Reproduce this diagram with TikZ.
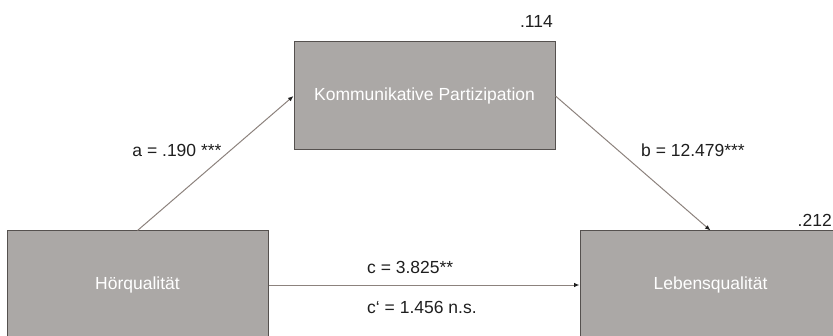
\documentclass[tikz,border=0pt]{standalone}
\usepackage{fontspec}
\setmainfont{Liberation Sans}
\usepackage{pgf}
\usepackage{tikz}
\usetikzlibrary{arrows.meta}
\definecolor{boxgray}{HTML}{ABA8A6}
\definecolor{edgegray}{HTML}{55514F}
\definecolor{linegray}{HTML}{8C827D}
\definecolor{labelgray}{HTML}{1E1E1E}

\begin{document}
\begin{tikzpicture}[x=1pt,y=1pt]
            \tikzstyle{varbox}=[rectangle,draw=edgegray,fill=boxgray,line width=1pt,minimum width=261pt,minimum height=108pt,inner sep=0pt,text=white,font=\fontsize{17.5}{21}\selectfont]
            \tikzstyle{effect}=[draw=linegray,line width=1pt,-{Latex[length=5.5pt,width=4.5pt,color=labelgray]}]
            \tikzstyle{coef}=[inner sep=0pt,text=labelgray,font=\fontsize{17.5}{21}\selectfont]
            \useasboundingbox (0,0) rectangle (833,335);
            \node[varbox] (hoer) at (137.5,50) {Hörqualität};
            \node[varbox] (komm) at (424.5,239) {Kommunikative Partizipation};
            \node[varbox] (leben) at (710.5,50) {Lebensqualität};
            \draw[effect] (hoer.north) -- (komm.west);
            \draw[effect] (komm.east) -- (leben.north);
            \draw[effect] (hoer.east) -- (leben.west);
            \node[coef] (coefa) at (177,185) {a = .190 ***};
            \node[coef] (coefb) at (693,185) {b = 12.479***};
            \node[coef,anchor=west] (coefc) at (367,68) {c = 3.825**};
            \node[coef,anchor=west] (coefcs) at (367,28) {c‘ = 1.456 n.s.};
            \node[coef,anchor=east] (rkomm) at (553,314) {.114};
            \node[coef,anchor=east] (rleben) at (832,115) {.212};
        \end{tikzpicture}
\end{document}
